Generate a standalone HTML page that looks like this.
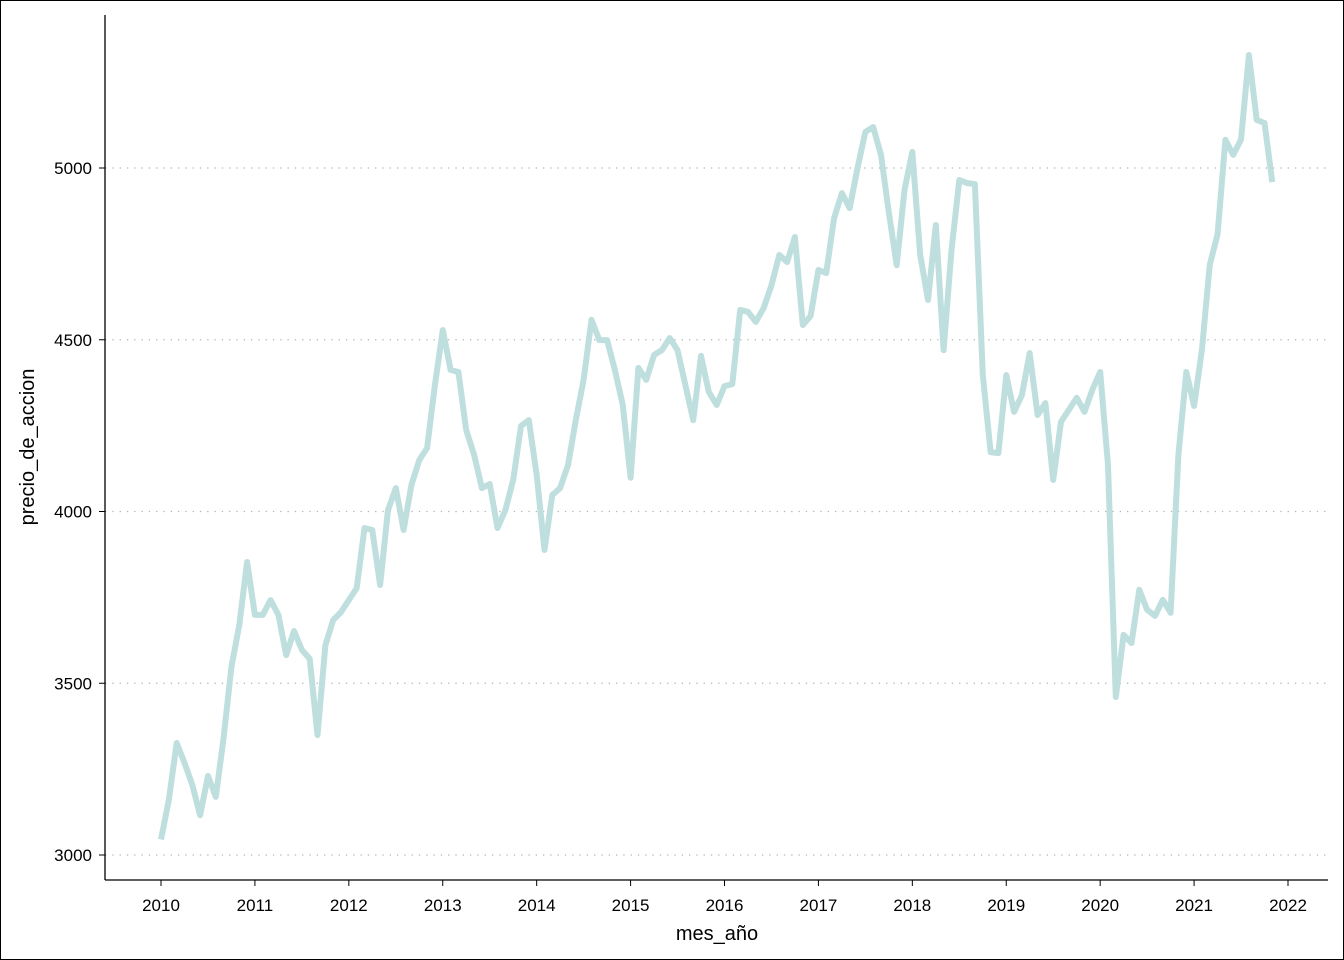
<!DOCTYPE html>
<html><head><meta charset="utf-8"><style>
html,body{margin:0;padding:0;background:#fff;}
svg{display:block;font-family:"Liberation Sans",sans-serif;}
</style></head><body>
<svg id="chart" width="1344" height="960" viewBox="0 0 1344 960">
<rect x="0.5" y="0.5" width="1343" height="959" fill="#fff" stroke="#000" stroke-width="1"/>
<g id="grid"></g>
<g id="axes"></g>
<path id="line" fill="none" stroke="#bfdfde" stroke-width="6" stroke-linejoin="round" stroke-linecap="butt"/>
<text x="717" y="940" font-size="20" text-anchor="middle">mes_año</text>
<text transform="translate(34,447) rotate(-90)" font-size="20" text-anchor="middle">precio_de_accion</text>
</svg>
<script>
const startYear = 2010;
const prices = [
3045,3160,3326,3268,3204,3116,3230,3169,3341,3547,3670,3853,
3699,3699,3742,3699,3582,3652,3597,3571,3349,3611,3684,3707,
3742,3777,3952,3946,3786,4004,4068,3946,4077,4150,4185,4368,
4528,4412,4406,4237,4165,4068,4080,3952,4004,4092,4249,4266,
4106,3888,4048,4068,4135,4266,4383,4558,4499,4499,4412,4310,
4098,4418,4383,4456,4470,4505,4470,4368,4266,4453,4348,4310,
4365,4371,4587,4581,4552,4592,4659,4747,4726,4799,4543,4569,
4703,4694,4854,4927,4883,5000,5105,5119,5038,4869,4717,4936,
5047,4747,4616,4834,4470,4761,4965,4956,4953,4397,4173,4170,
4397,4290,4339,4461,4281,4316,4092,4261,4296,4331,4290,4354,
4406,4135,3460,3641,3617,3772,3714,3696,3743,3705,4165,4406,
4307,4470,4717,4808,5082,5038,5082,5329,5140,5131,4959];
const yTicks = [3000,3500,4000,4500,5000];
const xTicks = [2010,2011,2012,2013,2014,2015,2016,2017,2018,2019,2020,2021,2022];
const NS = "http://www.w3.org/2000/svg";
const X = yr => 161 + (yr - 2010) * (1288 - 161) / 12;
const Y = v => 855 - (v - 3000) * (855 - 168) / 2000;
const grid = document.getElementById('grid');
const axes = document.getElementById('axes');
function mk(tag, attrs, parent){const e=document.createElementNS(NS,tag);for(const k in attrs)e.setAttribute(k,attrs[k]);parent.appendChild(e);return e;}
yTicks.forEach(t=>{
  const g = mk('line',{x1:105,x2:1328,y1:Y(t),y2:Y(t),stroke:'#b3b3b3','stroke-width':1.3,'stroke-dasharray':'1.3 6'},grid);
  
  
  const tk = mk('line',{x1:99,x2:105,y1:Y(t),y2:Y(t),stroke:'#000','stroke-width':1},axes);
  
  
  const lb = mk('text',{x:92,y:Y(t)+6,'font-size':17,'text-anchor':'end'},axes);
  lb.textContent = t;
  
  
});
xTicks.forEach(t=>{
  const tk = mk('line',{x1:X(t),x2:X(t),y1:880,y2:886,stroke:'#000','stroke-width':1},axes);
  
  
  const lb = mk('text',{x:X(t),y:911,'font-size':17,'text-anchor':'middle'},axes);
  lb.textContent = t;
  
  
});
const ya = mk('line',{x1:105,x2:105,y1:15,y2:880,stroke:'#000','stroke-width':1.3},axes);


const xa = mk('line',{x1:105,x2:1328,y1:880,y2:880,stroke:'#000','stroke-width':1.3},axes);


const d = prices.map((v,i)=>(i?'L':'M')+X(startYear + i/12).toFixed(1)+','+Y(v).toFixed(1)).join(' ');
document.getElementById('line').setAttribute('d', d);
</script>
</body></html>
